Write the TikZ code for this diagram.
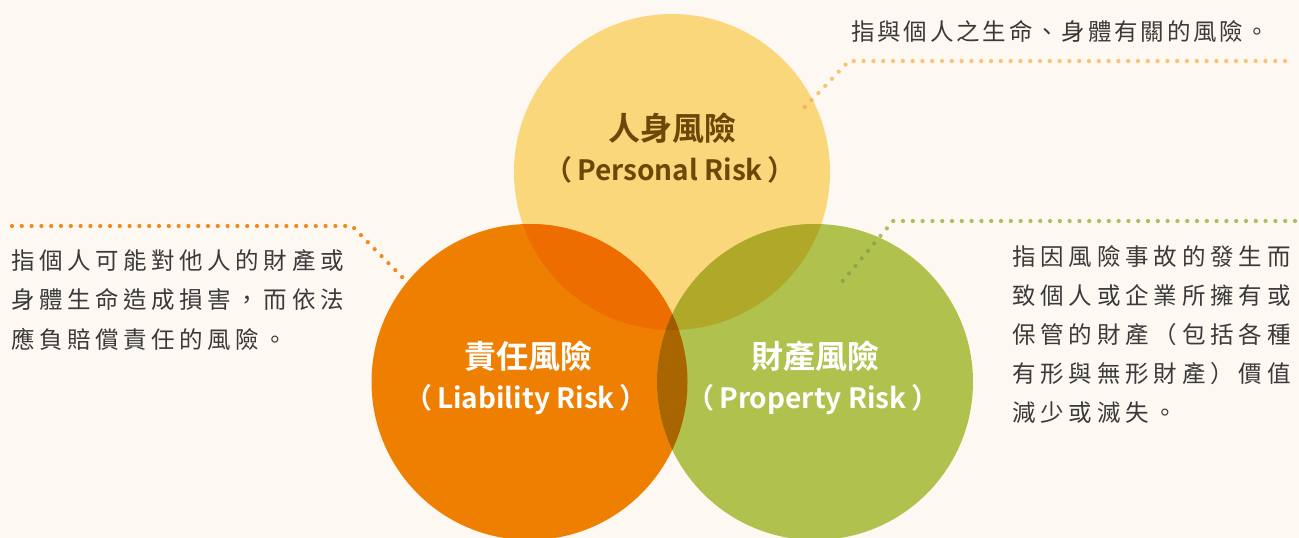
\documentclass[tikz,border=0pt]{standalone}
\usepackage{fontspec}
\setmainfont{Noto Sans CJK TC}
\newfontfamily\titlefont{Noto Sans CJK TC Bold}
\newfontfamily\descA[LetterSpace=12]{Noto Sans CJK TC}
\newfontfamily\descB[LetterSpace=19.5]{Noto Sans CJK TC}
\newfontfamily\descC[LetterSpace=20.5]{Noto Sans CJK TC}
\definecolor{bg}{HTML}{FDF8F1}
\definecolor{cyel}{HTML}{FAD77B}
\definecolor{corg}{HTML}{EF7F00}
\definecolor{cgrn}{HTML}{B0C24D}
\definecolor{cyo}{HTML}{ED6D00}
\definecolor{cyg}{HTML}{AFA829}
\definecolor{cog}{HTML}{A86500}
\definecolor{cyog}{HTML}{A05A00}
\definecolor{dyel}{HTML}{FCC36E}
\definecolor{dyelin}{HTML}{F4B55E}
\definecolor{dorg}{HTML}{F08A1E}
\definecolor{dgrn}{HTML}{A9C15A}
\definecolor{dgrnin}{HTML}{8EA648}
\definecolor{ptext}{HTML}{6B4708}
\definecolor{dtext}{HTML}{3A3A3A}
\tikzset{
  dots/.style={line width=4.2pt, line cap=round, dash pattern=on 0pt off 9.8pt},
  titlecjk/.style={font=\titlefont\fontsize{32}{40}\selectfont, inner sep=0pt},
  titlelat/.style={font=\titlefont\fontsize{28}{36}\selectfont, inner sep=0pt},
  desc/.style={inner sep=0pt, text=dtext, align=left},
}
\begin{document}
\begin{tikzpicture}[x=1pt,y=-1pt]
\fill[bg] (0,0) rectangle (1299,538);
\useasboundingbox (0,0) rectangle (1299,538);
\coordinate (cy) at (672,172);
\coordinate (co) at (529.5,382);
\coordinate (cg) at (815,382);
\def\R{158}
\fill[cyel] (cy) circle (\R);
\fill[corg] (co) circle (\R);
\fill[cgrn] (cg) circle (\R);
\begin{scope}
  \clip (cy) circle (\R);
  \fill[cyo] (co) circle (\R);
  \fill[cyg] (cg) circle (\R);
\end{scope}
\begin{scope}
  \clip (co) circle (\R);
  \fill[cog] (cg) circle (\R);
  \clip (cg) circle (\R);
  \fill[cyog] (cy) circle (\R);
\end{scope}
% dotted connectors
\coordinate (y1) at (803,109);
\coordinate (y2) at (849,61);
\coordinate (y3) at (1285,61);
\draw[dots, dyel] (y3) -- (y2) -- (y1);
\begin{scope}
  \clip (cy) circle (\R);
  \draw[dots, dyelin] (y3) -- (y2) -- (y1);
\end{scope}
\coordinate (o1) at (12,226);
\coordinate (o2) at (352,226);
\coordinate (o3) at (405,280);
\draw[dots, dorg] (o1) -- (o2) -- (o3);
\coordinate (g1) at (841,283);
\coordinate (g2) at (893,221);
\coordinate (g3) at (1295,221);
\draw[dots, dgrn] (g3) -- (g2) -- (g1);
\begin{scope}
  \clip (cg) circle (\R);
  \draw[dots, dgrnin] (g3) -- (g2) -- (g1);
\end{scope}
% titles
\node[titlecjk, text=ptext] (tp1) at (672,128) {人身風險};
\node[titlelat, text=ptext] (tp2) at (670,170) {（\,Personal Risk\,）};
\node[titlecjk, text=white] (tl1) at (528,356) {責任風險};
\node[titlelat, text=white] (tl2) at (526,400) {（\,Liability Risk\,）};
\node[titlecjk, text=white] (tg1) at (815,356) {財產風險};
\node[titlelat, text=white] (tg2) at (813,400) {（\,Property Risk\,）};
% descriptions
\node[desc, anchor=west, font=\descA\fontsize{23.5}{37.5}\selectfont] (dp) at (851,31) {指與個人之生命、身體有關的風險。};
\node[desc, anchor=north west, font=\descB\fontsize{23.5}{37.5}\selectfont] (dl) at (11,249) {指個人可能對他人的財產或\\[2pt]身體生命造成損害，而依法\\[2pt]應負賠償責任的風險。};
\node[desc, anchor=north west, font=\descC\fontsize{23.5}{38}\selectfont] (dg) at (1012,245) {指因風險事故的發生而\\[1pt]致個人或企業所擁有或\\[1pt]保管的財產（包括各種\\[1pt]有形與無形財產）價值\\[1pt]減少或滅失。};
\end{tikzpicture}
\end{document}
